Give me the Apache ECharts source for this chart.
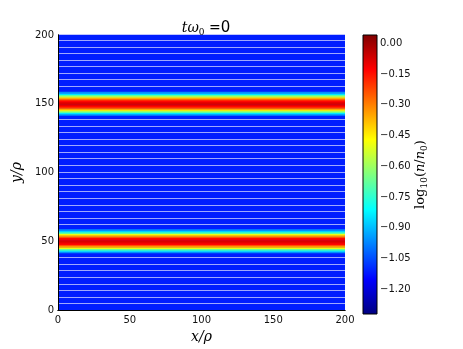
<!DOCTYPE html>
<html>
<head>
<meta charset="utf-8">
<script src="https://cdn.jsdelivr.net/npm/echarts@6/dist/echarts.min.js"></script>
<style>
html, body { margin: 0; padding: 0; background: #fff; }
#chart { width: 463px; height: 349px; }
</style>
</head>
<body>
<div id="chart"></div>
<script>
// axes
var xRange = [0, 200];
var yRange = [0, 200];
var colorRange = [-1.32, 0.04];
var colorTicks = [-1.20, -1.05, -0.90, -0.75, -0.60, -0.45, -0.30, -0.15, 0.00];

// log10(n/n0) far from the bands
var backgroundLevel = -1.11;

// two density bands, profile read across each band (offset in y/rho)
var bandCentres = [50, 150];
var bandOffsets = [-8, -7, -6, -5, -4, -3, -2, -1, 0, 1, 2, 3, 4, 5, 6, 7, 8];
var bandLevels = [-0.96, -0.84, -0.68, -0.50, -0.36, -0.24, -0.14, -0.10, -0.08, -0.10, -0.14, -0.24, -0.36, -0.50, -0.68, -0.84, -0.96];

// thin white rows seen in the image
var stripeY = [4.8, 9.6, 14.4, 19.2, 24.0, 28.8, 33.5, 38.3, 43.1, 47.9, 52.7, 57.5, 62.3, 67.1,
  71.9, 76.7, 81.4, 86.2, 91.0, 95.8, 100.6, 105.4, 110.2, 115.0, 119.8, 124.6, 129.3, 134.1,
  138.9, 143.7, 148.5, 153.3, 158.1, 162.9, 167.7, 172.5, 177.2, 182.0, 186.8, 191.6, 196.4];

var jet = ['#00007f', '#0000ff', '#007fff', '#00ffff', '#7fff7f', '#ffff00', '#ff7f00', '#ff0000', '#7f0000'];

var bandRows = [];
bandCentres.forEach(function (c) {
  bandOffsets.forEach(function (o, i) {
    bandRows.push([c + o - 0.5, c + o + 0.5, bandLevels[i]]);
  });
});

function rowItem(params, api) {
  var a = api.coord([xRange[0], api.value(1)]);
  var b = api.coord([xRange[1], api.value(0)]);
  return {
    type: 'rect',
    shape: { x: a[0], y: a[1] - 0.3, width: b[0] - a[0], height: b[1] - a[1] + 0.6 },
    style: { fill: api.visual('color') }
  };
}

function stripeItem(params, api) {
  var a = api.coord([xRange[0], api.value(0)]);
  var b = api.coord([xRange[1], api.value(0)]);
  var y = Math.round(a[1]) + 0.5;
  return {
    type: 'line',
    shape: { x1: a[0], y1: y, x2: b[0], y2: y },
    style: { stroke: '#ffffff', lineWidth: 1, opacity: 0.62 }
  };
}

function colorbarItem(params, api) {
  var cs = params.coordSys;
  var stops = jet.map(function (c, i) { return { offset: i / (jet.length - 1), color: c }; });
  return {
    type: 'rect',
    shape: { x: cs.x, y: cs.y, width: cs.width, height: cs.height },
    style: { fill: new echarts.graphic.LinearGradient(0, 1, 0, 0, stops), stroke: '#000', lineWidth: 1 }
  };
}

var tickFont = { fontFamily: 'DejaVu Sans', fontSize: 10, color: '#111' };
var mathName = { fontFamily: 'DejaVu Serif', fontStyle: 'italic', fontSize: 14, color: '#000' };

var chart = echarts.init(document.getElementById('chart'));
var option = {
  animation: false,
  title: {
    text: '{i|tω}{s|0}{e| =}{n|0}',
    left: 201,
    top: 15,
    textAlign: 'center',
    textStyle: {
      fontWeight: 'normal',
      rich: {
        i: { fontFamily: 'DejaVu Serif', fontStyle: 'italic', fontWeight: 'normal', fontSize: 14, color: '#000' },
        s: { fontFamily: 'DejaVu Serif', fontWeight: 'normal', fontSize: 9, color: '#000', padding: [8, 0, 0, 0] },
        e: { fontFamily: 'DejaVu Serif', fontWeight: 'normal', fontSize: 14, color: '#000' },
        n: { fontFamily: 'DejaVu Sans', fontWeight: 'normal', fontSize: 15, color: '#000' }
      }
    }
  },
  visualMap: {
    show: false,
    type: 'continuous',
    min: colorRange[0],
    max: colorRange[1],
    dimension: 2,
    seriesIndex: [0, 2],
    inRange: { color: jet }
  },
  grid: [
    { left: 58, top: 35, width: 287, height: 279 },
    { left: 363, top: 35, width: 14, height: 279 }
  ],
  xAxis: [
    {
      gridIndex: 0, type: 'value', min: xRange[0], max: xRange[1], interval: 50, z: 5,
      axisLine: { lineStyle: { color: '#000', width: 1 } },
      axisTick: { show: false },
      axisLabel: Object.assign({ margin: 5 }, tickFont),
      splitLine: { show: false },
      name: 'x/ρ', nameLocation: 'middle', nameGap: 20, nameTextStyle: mathName
    },
    {
      gridIndex: 0, type: 'value', min: xRange[0], max: xRange[1], position: 'top', z: 5,
      axisLine: { lineStyle: { color: '#000', width: 1 } },
      axisTick: { show: false }, axisLabel: { show: false }, splitLine: { show: false }
    },
    {
      gridIndex: 1, type: 'value', min: 0, max: 1, show: false
    }
  ],
  yAxis: [
    {
      gridIndex: 0, type: 'value', min: yRange[0], max: yRange[1], interval: 50, z: 5,
      axisLine: { lineStyle: { color: '#000', width: 1 } },
      axisTick: { show: false },
      axisLabel: Object.assign({ margin: 4 }, tickFont),
      splitLine: { show: false },
      name: 'y/ρ', nameLocation: 'middle', nameRotate: 90, nameGap: 23, nameTextStyle: mathName
    },
    {
      gridIndex: 0, type: 'value', min: yRange[0], max: yRange[1], position: 'right', z: 5,
      axisLine: { lineStyle: { color: '#000', width: 1 } },
      axisTick: { show: false }, axisLabel: { show: false }, splitLine: { show: false }
    },
    {
      gridIndex: 1, type: 'value', min: colorRange[0], max: colorRange[1], position: 'right',
      axisLine: { show: false },
      axisTick: { show: false },
      splitLine: { show: false },
      axisLabel: Object.assign({
        margin: 3,
        customValues: colorTicks,
        formatter: function (v) { return v.toFixed(2).replace('-', '\u2212'); }
      }, tickFont),
      name: '{l|log}{s|10}{p|(}{i|n}{p|/}{i|n}{s|0}{p|)}',
      nameLocation: 'middle', nameRotate: 90, nameGap: 36,
      nameTextStyle: {
        rich: {
          l: { fontFamily: 'DejaVu Serif', fontSize: 13, color: '#000' },
          p: { fontFamily: 'DejaVu Serif', fontSize: 13, color: '#000' },
          i: { fontFamily: 'DejaVu Serif', fontStyle: 'italic', fontSize: 13, color: '#000' },
          s: { fontFamily: 'DejaVu Serif', fontSize: 9, color: '#000', padding: [7, 0, 0, 0] }
        }
      }
    }
  ],
  series: [
    {
      type: 'custom', xAxisIndex: 0, yAxisIndex: 0, renderItem: rowItem,
      data: [[yRange[0], yRange[1], backgroundLevel]], z: 1
    },
    {
      type: 'custom', xAxisIndex: 0, yAxisIndex: 0, renderItem: stripeItem,
      data: stripeY.map(function (y) { return [y]; }), z: 2
    },
    {
      type: 'custom', xAxisIndex: 0, yAxisIndex: 0, renderItem: rowItem,
      data: bandRows, z: 3
    },
    {
      type: 'custom', xAxisIndex: 2, yAxisIndex: 2, renderItem: colorbarItem,
      data: [[0, colorRange[0]]], z: 3
    }
  ]
};
chart.setOption(option);
window.addEventListener('resize', function () { chart.resize(); });
</script>
</body>
</html>
